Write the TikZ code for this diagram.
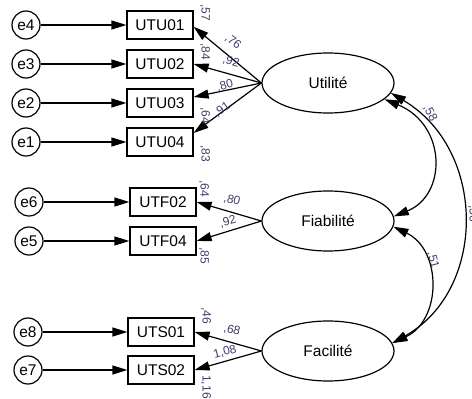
\documentclass[tikz,border=0pt]{standalone}
\usepackage{fontspec}
\setmainfont{Liberation Sans}
\usetikzlibrary{arrows.meta,shapes.geometric}
\definecolor{labcol}{RGB}{72,58,105}
\begin{document}
\begin{tikzpicture}[x=1pt,y=1pt,
  obs/.style={draw,line width=1.2pt,minimum width=66pt,minimum height=28pt,inner sep=0pt,font=\fontsize{15.5}{16}\selectfont},
  err/.style={draw,circle,line width=1.2pt,minimum size=28pt,inner sep=0pt,font=\fontsize{15.5}{16}\selectfont},
  lat/.style={draw,ellipse,line width=1.2pt,minimum width=132pt,minimum height=60pt,inner sep=0pt,font=\fontsize{15.5}{16}\selectfont},
  arr/.style={line width=1.2pt,-{Triangle[length=15pt,width=9pt]}},
  cov/.style={line width=1.2pt,{Triangle[length=15pt,width=9pt]}-{Triangle[length=15pt,width=9pt]}},
  lab/.style={text=labcol,inner sep=0pt,font=\fontsize{12}{12}\selectfont}]
\useasboundingbox (0,0) rectangle (472,-399);
% latent
\node[lat] (U) at (328,-83) {Utilité};
\node[lat] (F) at (328,-221) {Fiabilité};
\node[lat] (Fa) at (328,-351) {Facilité};
% observed
\node[obs] (b1) at (160,-25) {UTU01};
\node[obs] (b2) at (160,-64) {UTU02};
\node[obs] (b3) at (160,-103) {UTU03};
\node[obs] (b4) at (160,-142) {UTU04};
\node[obs] (f1) at (163,-202) {UTF02};
\node[obs] (f2) at (163,-241) {UTF04};
\node[obs] (s1) at (161,-332) {UTS01};
\node[obs] (s2) at (161,-370) {UTS02};
% errors
\node[err] (e4) at (26,-25) {e4};
\node[err] (e3) at (26,-64) {e3};
\node[err] (e2) at (26,-103) {e2};
\node[err] (e1) at (26,-142) {e1};
\node[err] (e6) at (29,-202) {e6};
\node[err] (e5) at (29,-241) {e5};
\node[err] (e8) at (28,-332) {e8};
\node[err] (e7) at (28,-370) {e7};
% error arrows
\draw[arr] (e4) -- (b1);
\draw[arr] (e3) -- (b2);
\draw[arr] (e2) -- (b3);
\draw[arr] (e1) -- (b4);
\draw[arr] (e6) -- (f1);
\draw[arr] (e5) -- (f2);
\draw[arr] (e8) -- (s1);
\draw[arr] (e7) -- (s2);
% loadings
\draw[arr] (U.west) -- (b1.-3);
\draw[arr] (U.west) -- (b2.east);
\draw[arr] (U.west) -- (b3.10);
\draw[arr] (U.west) -- (b4.15);
\draw[arr] (F.west) -- (f1.east);
\draw[arr] (F.west) -- (f2.east);
\draw[arr] (Fa.west) -- (s1.east);
\draw[arr] (Fa.west) -- (s2.east);
% covariances
\draw[cov] (U.-16) .. controls (447,-125) and (447,-195) .. (F.4);
\draw[cov] (F.-5) .. controls (442,-250) and (442,-320) .. (Fa.7);
\draw[cov] (U.-9) .. controls (487,-150) and (487,-290) .. (Fa.7);
% loading labels
\node[lab,rotate=-38] (l1) at (233,-42) {,76};
\node[lab,rotate=-17] (l2) at (231,-62) {,92};
\node[lab,rotate=15] (l3) at (225,-86) {,80};
\node[lab,rotate=35] (l4) at (222,-110) {,91};
\node[lab,rotate=-15] (l5) at (232,-200) {,80};
\node[lab,rotate=15] (l6) at (228,-222) {,92};
\node[lab,rotate=-15] (l7) at (232,-330) {,68};
\node[lab,rotate=15] (l8) at (225,-352) {1,08};
% variance labels
\node[lab,rotate=-90] (v1) at (205,-13) {,57};
\node[lab,rotate=-90] (v2) at (205,-52) {,84};
\node[lab,rotate=-90] (v3) at (205,-116) {,64};
\node[lab,rotate=-90] (v4) at (205,-154) {,83};
\node[lab,rotate=-90] (v5) at (204,-189) {,64};
\node[lab,rotate=-90] (v6) at (204,-256) {,85};
\node[lab,rotate=-90] (v7) at (206,-316) {,46};
\node[lab,rotate=-90] (v8) at (206,-387) {1,16};
% covariance labels
\node[lab,rotate=-62] (c1) at (430,-113) {,58};
\node[lab,rotate=-75] (c2) at (433,-260) {,51};
\node[lab,rotate=-90] (c3) at (473,-214) {,56};
\end{tikzpicture}
\end{document}
